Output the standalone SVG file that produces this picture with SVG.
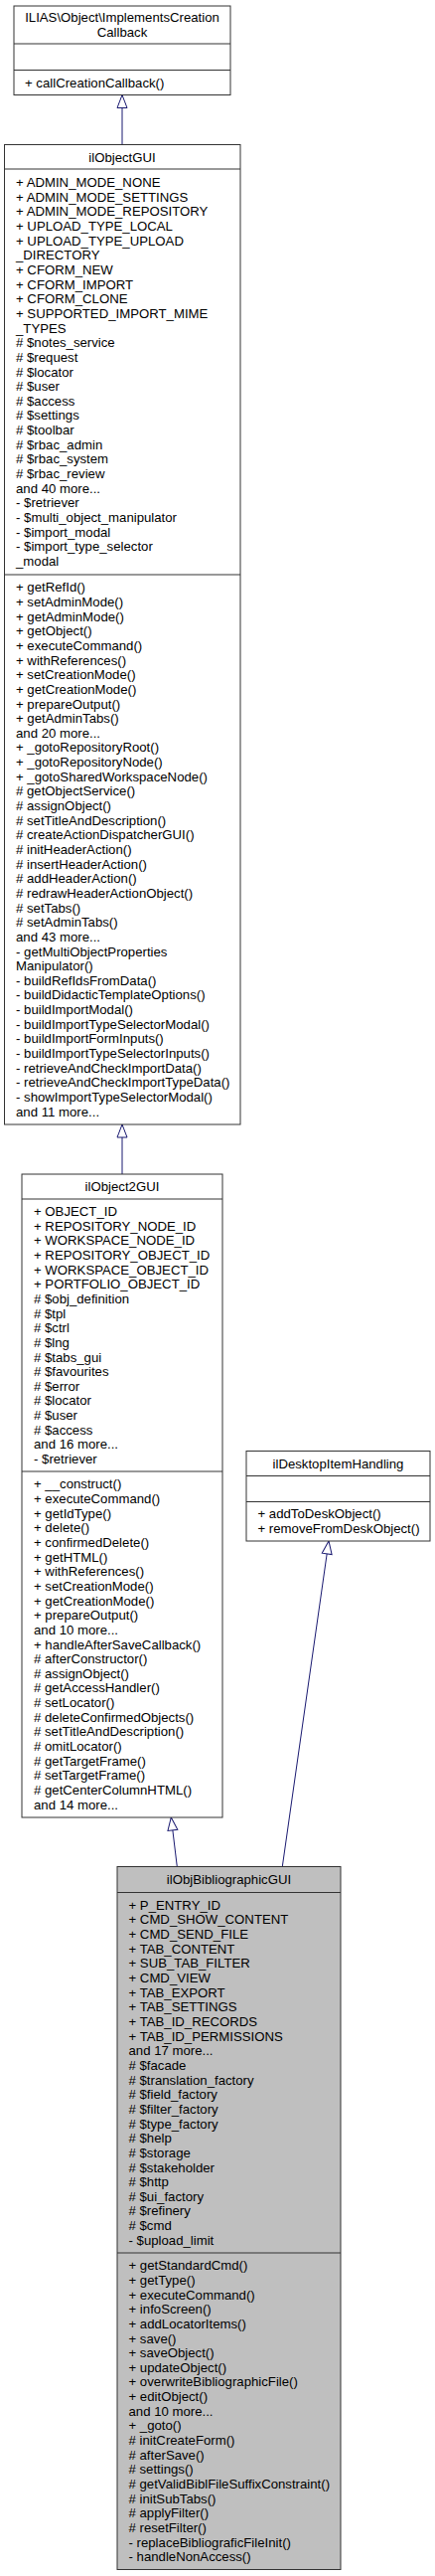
<svg xmlns="http://www.w3.org/2000/svg" width="438" height="2591" viewBox="0 0 438 2591">
<style>
text{font-family:"Liberation Sans",Arial,sans-serif;font-size:13.2px;fill:#000}
.t{text-anchor:middle}
.box{fill:#fff;stroke:#333;stroke-width:1}
.cur{fill:#bfbfbf;stroke:#333;stroke-width:1}
.sep{stroke:#333;stroke-width:1}
.edge{fill:none;stroke:#191970;stroke-width:1;marker-end:url(#inh)}
</style>
<defs>
<marker id="inh" markerWidth="16" markerHeight="12" refX="14" refY="6" orient="auto" markerUnits="userSpaceOnUse" overflow="visible">
<path d="M1,1 L14,6 L1,11 Z" fill="#fff" stroke="#191970" stroke-width="1"/>
</marker>
</defs>
<rect width="438" height="2591" fill="#fff"/>

<g id="edges">
<path class="edge" d="M123,145.5 L123,95.5"/>
<path class="edge" d="M123,1181 L123,1131"/>
<path class="edge" d="M178.3,1877.5 L172.3,1828"/>
<path class="edge" d="M284.3,1877.5 L331,1550"/>
</g>

<g id="ImplementsCreationCallback">
<rect class="box" x="14" y="6" width="218" height="89.5"/>
<line class="sep" x1="14" y1="44" x2="232" y2="44"/>
<line class="sep" x1="14" y1="70.5" x2="232" y2="70.5"/>
<text class="t" x="123" y="22.2">ILIAS\Object\ImplementsCreation</text>
<text class="t" x="123" y="36.8">Callback</text>
<text x="25" y="87.5">+ callCreationCallback()</text>
</g>

<g id="ilObjectGUI">
<rect class="box" x="4.5" y="145.5" width="237.5" height="985.5"/>
<line class="sep" x1="4.5" y1="170" x2="242" y2="170"/>
<line class="sep" x1="4.5" y1="578" x2="242" y2="578"/>
<text class="t" x="123" y="162.8">ilObjectGUI</text>
<text x="16" y="188.05">
<tspan x="16">+ ADMIN_MODE_NONE</tspan>
<tspan x="16" dy="14.65">+ ADMIN_MODE_SETTINGS</tspan>
<tspan x="16" dy="14.65">+ ADMIN_MODE_REPOSITORY</tspan>
<tspan x="16" dy="14.65">+ UPLOAD_TYPE_LOCAL</tspan>
<tspan x="16" dy="14.65">+ UPLOAD_TYPE_UPLOAD</tspan>
<tspan x="16" dy="14.65">_DIRECTORY</tspan>
<tspan x="16" dy="14.65">+ CFORM_NEW</tspan>
<tspan x="16" dy="14.65">+ CFORM_IMPORT</tspan>
<tspan x="16" dy="14.65">+ CFORM_CLONE</tspan>
<tspan x="16" dy="14.65">+ SUPPORTED_IMPORT_MIME</tspan>
<tspan x="16" dy="14.65">_TYPES</tspan>
<tspan x="16" dy="14.65"># $notes_service</tspan>
<tspan x="16" dy="14.65"># $request</tspan>
<tspan x="16" dy="14.65"># $locator</tspan>
<tspan x="16" dy="14.65"># $user</tspan>
<tspan x="16" dy="14.65"># $access</tspan>
<tspan x="16" dy="14.65"># $settings</tspan>
<tspan x="16" dy="14.65"># $toolbar</tspan>
<tspan x="16" dy="14.65"># $rbac_admin</tspan>
<tspan x="16" dy="14.65"># $rbac_system</tspan>
<tspan x="16" dy="14.65"># $rbac_review</tspan>
<tspan x="16" dy="14.65">and 40 more...</tspan>
<tspan x="16" dy="14.65">- $retriever</tspan>
<tspan x="16" dy="14.65">- $multi_object_manipulator</tspan>
<tspan x="16" dy="14.65">- $import_modal</tspan>
<tspan x="16" dy="14.65">- $import_type_selector</tspan>
<tspan x="16" dy="14.65">_modal</tspan>
</text>
<text x="16" y="595.3">
<tspan x="16">+ getRefId()</tspan>
<tspan x="16" dy="14.65">+ setAdminMode()</tspan>
<tspan x="16" dy="14.65">+ getAdminMode()</tspan>
<tspan x="16" dy="14.65">+ getObject()</tspan>
<tspan x="16" dy="14.65">+ executeCommand()</tspan>
<tspan x="16" dy="14.65">+ withReferences()</tspan>
<tspan x="16" dy="14.65">+ setCreationMode()</tspan>
<tspan x="16" dy="14.65">+ getCreationMode()</tspan>
<tspan x="16" dy="14.65">+ prepareOutput()</tspan>
<tspan x="16" dy="14.65">+ getAdminTabs()</tspan>
<tspan x="16" dy="14.65">and 20 more...</tspan>
<tspan x="16" dy="14.65">+ _gotoRepositoryRoot()</tspan>
<tspan x="16" dy="14.65">+ _gotoRepositoryNode()</tspan>
<tspan x="16" dy="14.65">+ _gotoSharedWorkspaceNode()</tspan>
<tspan x="16" dy="14.65"># getObjectService()</tspan>
<tspan x="16" dy="14.65"># assignObject()</tspan>
<tspan x="16" dy="14.65"># setTitleAndDescription()</tspan>
<tspan x="16" dy="14.65"># createActionDispatcherGUI()</tspan>
<tspan x="16" dy="14.65"># initHeaderAction()</tspan>
<tspan x="16" dy="14.65"># insertHeaderAction()</tspan>
<tspan x="16" dy="14.65"># addHeaderAction()</tspan>
<tspan x="16" dy="14.65"># redrawHeaderActionObject()</tspan>
<tspan x="16" dy="14.65"># setTabs()</tspan>
<tspan x="16" dy="14.65"># setAdminTabs()</tspan>
<tspan x="16" dy="14.65">and 43 more...</tspan>
<tspan x="16" dy="14.65">- getMultiObjectProperties</tspan>
<tspan x="16" dy="14.65">Manipulator()</tspan>
<tspan x="16" dy="14.65">- buildRefIdsFromData()</tspan>
<tspan x="16" dy="14.65">- buildDidacticTemplateOptions()</tspan>
<tspan x="16" dy="14.65">- buildImportModal()</tspan>
<tspan x="16" dy="14.65">- buildImportTypeSelectorModal()</tspan>
<tspan x="16" dy="14.65">- buildImportFormInputs()</tspan>
<tspan x="16" dy="14.65">- buildImportTypeSelectorInputs()</tspan>
<tspan x="16" dy="14.65">- retrieveAndCheckImportData()</tspan>
<tspan x="16" dy="14.65">- retrieveAndCheckImportTypeData()</tspan>
<tspan x="16" dy="14.65">- showImportTypeSelectorModal()</tspan>
<tspan x="16" dy="14.65">and 11 more...</tspan>
</text>
</g>

<g id="ilObject2GUI">
<rect class="box" x="22" y="1181" width="202" height="647"/>
<line class="sep" x1="22" y1="1206" x2="224" y2="1206"/>
<line class="sep" x1="22" y1="1480" x2="224" y2="1480"/>
<text class="t" x="123" y="1198.3">ilObject2GUI</text>
<text x="34" y="1223">
<tspan x="34">+ OBJECT_ID</tspan>
<tspan x="34" dy="14.65">+ REPOSITORY_NODE_ID</tspan>
<tspan x="34" dy="14.65">+ WORKSPACE_NODE_ID</tspan>
<tspan x="34" dy="14.65">+ REPOSITORY_OBJECT_ID</tspan>
<tspan x="34" dy="14.65">+ WORKSPACE_OBJECT_ID</tspan>
<tspan x="34" dy="14.65">+ PORTFOLIO_OBJECT_ID</tspan>
<tspan x="34" dy="14.65"># $obj_definition</tspan>
<tspan x="34" dy="14.65"># $tpl</tspan>
<tspan x="34" dy="14.65"># $ctrl</tspan>
<tspan x="34" dy="14.65"># $lng</tspan>
<tspan x="34" dy="14.65"># $tabs_gui</tspan>
<tspan x="34" dy="14.65"># $favourites</tspan>
<tspan x="34" dy="14.65"># $error</tspan>
<tspan x="34" dy="14.65"># $locator</tspan>
<tspan x="34" dy="14.65"># $user</tspan>
<tspan x="34" dy="14.65"># $access</tspan>
<tspan x="34" dy="14.65">and 16 more...</tspan>
<tspan x="34" dy="14.65">- $retriever</tspan>
</text>
<text x="34" y="1497.35">
<tspan x="34">+ __construct()</tspan>
<tspan x="34" dy="14.65">+ executeCommand()</tspan>
<tspan x="34" dy="14.65">+ getIdType()</tspan>
<tspan x="34" dy="14.65">+ delete()</tspan>
<tspan x="34" dy="14.65">+ confirmedDelete()</tspan>
<tspan x="34" dy="14.65">+ getHTML()</tspan>
<tspan x="34" dy="14.65">+ withReferences()</tspan>
<tspan x="34" dy="14.65">+ setCreationMode()</tspan>
<tspan x="34" dy="14.65">+ getCreationMode()</tspan>
<tspan x="34" dy="14.65">+ prepareOutput()</tspan>
<tspan x="34" dy="14.65">and 10 more...</tspan>
<tspan x="34" dy="14.65">+ handleAfterSaveCallback()</tspan>
<tspan x="34" dy="14.65"># afterConstructor()</tspan>
<tspan x="34" dy="14.65"># assignObject()</tspan>
<tspan x="34" dy="14.65"># getAccessHandler()</tspan>
<tspan x="34" dy="14.65"># setLocator()</tspan>
<tspan x="34" dy="14.65"># deleteConfirmedObjects()</tspan>
<tspan x="34" dy="14.65"># setTitleAndDescription()</tspan>
<tspan x="34" dy="14.65"># omitLocator()</tspan>
<tspan x="34" dy="14.65"># getTargetFrame()</tspan>
<tspan x="34" dy="14.65"># setTargetFrame()</tspan>
<tspan x="34" dy="14.65"># getCenterColumnHTML()</tspan>
<tspan x="34" dy="14.65">and 14 more...</tspan>
</text>
</g>

<g id="ilDesktopItemHandling">
<rect class="box" x="248" y="1459.5" width="185" height="90.5"/>
<line class="sep" x1="248" y1="1484.5" x2="433" y2="1484.5"/>
<line class="sep" x1="248" y1="1510.5" x2="433" y2="1510.5"/>
<text class="t" x="340.5" y="1476.5">ilDesktopItemHandling</text>
<text x="259.5" y="1527.4">+ addToDeskObject()</text>
<text x="259.5" y="1542.05">+ removeFromDeskObject()</text>
</g>

<g id="ilObjBibliographicGUI">
<rect class="cur" x="118" y="1877.5" width="225" height="707"/>
<line class="sep" x1="118" y1="1903.5" x2="343" y2="1903.5"/>
<line class="sep" x1="118" y1="2266" x2="343" y2="2266"/>
<text class="t" x="230.5" y="1895">ilObjBibliographicGUI</text>
<text x="129.5" y="1920.8">
<tspan x="129.5">+ P_ENTRY_ID</tspan>
<tspan x="129.5" dy="14.65">+ CMD_SHOW_CONTENT</tspan>
<tspan x="129.5" dy="14.65">+ CMD_SEND_FILE</tspan>
<tspan x="129.5" dy="14.65">+ TAB_CONTENT</tspan>
<tspan x="129.5" dy="14.65">+ SUB_TAB_FILTER</tspan>
<tspan x="129.5" dy="14.65">+ CMD_VIEW</tspan>
<tspan x="129.5" dy="14.65">+ TAB_EXPORT</tspan>
<tspan x="129.5" dy="14.65">+ TAB_SETTINGS</tspan>
<tspan x="129.5" dy="14.65">+ TAB_ID_RECORDS</tspan>
<tspan x="129.5" dy="14.65">+ TAB_ID_PERMISSIONS</tspan>
<tspan x="129.5" dy="14.65">and 17 more...</tspan>
<tspan x="129.5" dy="14.65"># $facade</tspan>
<tspan x="129.5" dy="14.65"># $translation_factory</tspan>
<tspan x="129.5" dy="14.65"># $field_factory</tspan>
<tspan x="129.5" dy="14.65"># $filter_factory</tspan>
<tspan x="129.5" dy="14.65"># $type_factory</tspan>
<tspan x="129.5" dy="14.65"># $help</tspan>
<tspan x="129.5" dy="14.65"># $storage</tspan>
<tspan x="129.5" dy="14.65"># $stakeholder</tspan>
<tspan x="129.5" dy="14.65"># $http</tspan>
<tspan x="129.5" dy="14.65"># $ui_factory</tspan>
<tspan x="129.5" dy="14.65"># $refinery</tspan>
<tspan x="129.5" dy="14.65"># $cmd</tspan>
<tspan x="129.5" dy="14.65">- $upload_limit</tspan>
</text>
<text x="129.5" y="2283.25">
<tspan x="129.5">+ getStandardCmd()</tspan>
<tspan x="129.5" dy="14.65">+ getType()</tspan>
<tspan x="129.5" dy="14.65">+ executeCommand()</tspan>
<tspan x="129.5" dy="14.65">+ infoScreen()</tspan>
<tspan x="129.5" dy="14.65">+ addLocatorItems()</tspan>
<tspan x="129.5" dy="14.65">+ save()</tspan>
<tspan x="129.5" dy="14.65">+ saveObject()</tspan>
<tspan x="129.5" dy="14.65">+ updateObject()</tspan>
<tspan x="129.5" dy="14.65">+ overwriteBibliographicFile()</tspan>
<tspan x="129.5" dy="14.65">+ editObject()</tspan>
<tspan x="129.5" dy="14.65">and 10 more...</tspan>
<tspan x="129.5" dy="14.65">+ _goto()</tspan>
<tspan x="129.5" dy="14.65"># initCreateForm()</tspan>
<tspan x="129.5" dy="14.65"># afterSave()</tspan>
<tspan x="129.5" dy="14.65"># settings()</tspan>
<tspan x="129.5" dy="14.65"># getValidBiblFileSuffixConstraint()</tspan>
<tspan x="129.5" dy="14.65"># initSubTabs()</tspan>
<tspan x="129.5" dy="14.65"># applyFilter()</tspan>
<tspan x="129.5" dy="14.65"># resetFilter()</tspan>
<tspan x="129.5" dy="14.65">- replaceBibliograficFileInit()</tspan>
<tspan x="129.5" dy="14.65">- handleNonAccess()</tspan>
</text>
</g>
</svg>
